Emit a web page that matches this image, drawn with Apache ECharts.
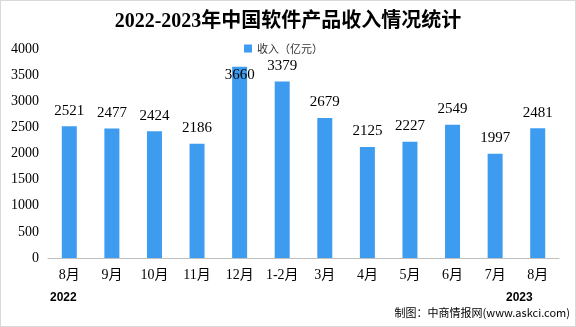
<!DOCTYPE html>
<html><head><meta charset="utf-8">
<script src="https://cdn.jsdelivr.net/npm/echarts@6/dist/echarts.min.js"></script>
<style>html,body{margin:0;padding:0;background:#fff}#c{width:576px;height:327px;box-sizing:border-box;border:1px solid #d9d9d9}</style>
</head><body><div id="c"></div>
<script>
const categories = ['8月','9月','10月','11月','12月','1-2月','3月','4月','5月','6月','7月','8月'];
const revenue = [2521, 2477, 2424, 2186, 3660, 3379, 2679, 2125, 2227, 2549, 1997, 2481];
const yTicks = [0, 500, 1000, 1500, 2000, 2500, 3000, 3500, 4000];
const seriesName = '收入（亿元）';
const titleText = '2022-2023年中国软件产品收入情况统计';
const serif = '"Liberation Serif","Times New Roman","Noto Sans CJK SC",serif';
const chart = echarts.init(document.getElementById('c'));
const barData = revenue.map((v, i) => i === 4
  ? {value: v, label: {position: 'insideTop', distance: 1}}
  : v);
chart.setOption({
  animation: false,
  title: {text: titleText, left: 'center', top: 6,
    textStyle: {fontFamily: serif, fontSize: 20, fontWeight: 'bold', color: '#000'}},
  legend: {data: [seriesName], left: 238, top: 37, itemWidth: 8, itemHeight: 8, itemGap: 4,
    icon: 'rect', textStyle: {fontSize: 11, color: '#333', fontFamily: '"Noto Sans CJK SC",sans-serif'}},
  grid: {left: 47, right: 16, top: 48, bottom: 68},
  xAxis: {type: 'category', data: categories,
    axisLine: {lineStyle: {color: '#bfbfbf'}}, axisTick: {show: false},
    axisLabel: {fontFamily: serif, fontSize: 14, color: '#000', margin: 10, interval: 0}},
  yAxis: {type: 'value', min: yTicks[0], max: yTicks[yTicks.length-1], interval: 500,
    axisLine: {show: false}, axisTick: {show: false}, splitLine: {show: false},
    axisLabel: {fontFamily: serif, fontSize: 14, color: '#000', margin: 9, formatter: v => String(v)}},
  series: [{name: seriesName, type: 'bar', data: barData, barWidth: 15,
    itemStyle: {color: '#3d9cf0'},
    label: {show: true, position: 'top', distance: 8, fontFamily: serif, fontSize: 15, color: '#000'}}],
  graphic: [
    {type: 'text', left: 49, top: 291, style: {text: '2022', font: 'bold 12px "Liberation Sans",sans-serif', fill: '#000'}},
    {type: 'text', left: 505, top: 291, style: {text: '2023', font: 'bold 12px "Liberation Sans",sans-serif', fill: '#000'}},
    {type: 'text', right: 5, top: 306, style: {text: '制图：中商情报网(www.askci.com)', font: '11px "Noto Sans CJK SC",sans-serif', fill: '#000'}}
  ]
});
</script></body></html>
